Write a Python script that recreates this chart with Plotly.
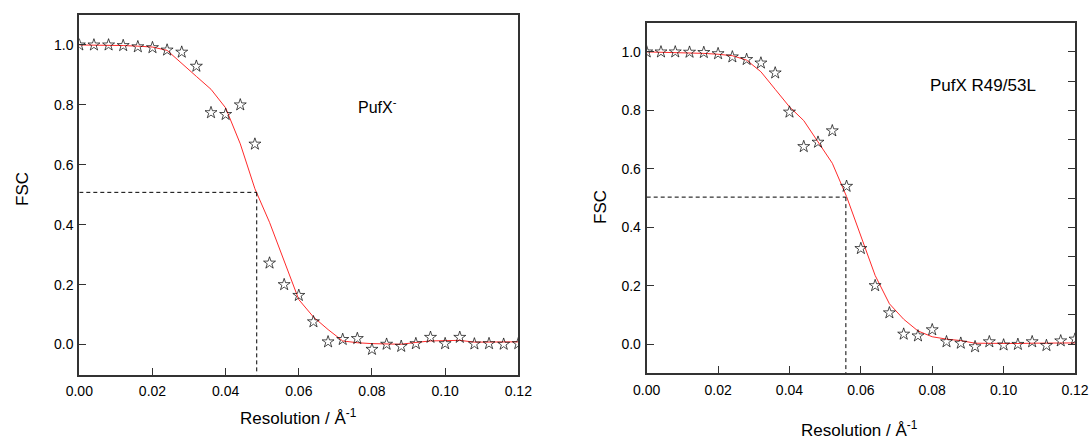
import plotly.graph_objects as go

# ---------------- data ----------------
resolution = [0.000, 0.004, 0.008, 0.012, 0.016, 0.020, 0.024, 0.028, 0.032, 0.036,
              0.040, 0.044, 0.048, 0.052, 0.056, 0.060, 0.064, 0.068, 0.072, 0.076,
              0.080, 0.084, 0.088, 0.092, 0.096, 0.100, 0.104, 0.108, 0.112, 0.116, 0.120]

pufx_minus_stars = [1.000, 1.000, 1.000, 0.998, 0.994, 0.991, 0.983, 0.976, 0.929, 0.774,
                    0.768, 0.800, 0.669, 0.272, 0.200, 0.164, 0.076, 0.009, 0.017, 0.020,
                    -0.016, 0.001, -0.006, 0.003, 0.024, 0.003, 0.024, 0.002, 0.003, 0.001, 0.003]
pufx_minus_fit = [1.000, 1.000, 0.999, 0.998, 0.996, 0.993, 0.982, 0.940, 0.895, 0.852,
                  0.790, 0.670, 0.520, 0.408, 0.280, 0.150, 0.092, 0.050, 0.012, 0.006,
                  0.003, 0.002, 0.001, 0.007, 0.012, 0.013, 0.014, 0.008, 0.008, 0.008, 0.009]

pufx_r49_stars = [1.000, 1.000, 1.000, 0.999, 0.998, 0.994, 0.983, 0.974, 0.962, 0.928,
                  0.794, 0.676, 0.691, 0.730, 0.540, 0.327, 0.200, 0.107, 0.034, 0.028,
                  0.049, 0.008, 0.003, -0.009, 0.008, -0.003, -0.001, 0.008, -0.005, 0.011, 0.017]
pufx_r49_fit = [1.000, 0.999, 0.998, 0.997, 0.995, 0.992, 0.987, 0.972, 0.932, 0.872,
                0.812, 0.765, 0.693, 0.619, 0.505, 0.370, 0.235, 0.138, 0.085, 0.045,
                0.025, 0.017, 0.012, 0.003, 0.002, 0.002, 0.002, 0.003, 0.003, 0.004, 0.004]

cutoff_left = [0.0485, 0.508]    # resolution, FSC at threshold
cutoff_right = [0.0558, 0.503]

x_ticks = [0.00, 0.02, 0.04, 0.06, 0.08, 0.10, 0.12]
x_tick_labels = ["0.00", "0.02", "0.04", "0.06", "0.08", "0.10", "0.12"]
y_ticks = [0.0, 0.2, 0.4, 0.6, 0.8, 1.0]
y_tick_labels = ["0.0", "0.2", "0.4", "0.6", "0.8", "1.0"]
right_minor_ticks = [0.0, 0.1, 0.2, 0.3, 0.4, 0.5, 0.6, 0.7, 0.8, 0.9, 1.0]

labels = ["PufX<sup>-</sup>", "PufX R49/53L"]

# ---------------- figure ----------------
W, H = 1090, 440
FONT = "Liberation Sans, Arial, sans-serif"
SPINE = "#333333"

fig = go.Figure()

def add_panel(xa, ya, stars, fit):
    fig.add_trace(go.Scatter(x=resolution, y=fit, mode="lines",
                             line=dict(color="#ff2a2a", width=1),
                             xaxis=xa, yaxis=ya, showlegend=False))
    fig.add_trace(go.Scatter(x=resolution, y=stars, mode="markers",
                             marker=dict(symbol="star-open", size=9, color="black",
                                         line=dict(width=0.7, color="black")),
                             xaxis=xa, yaxis=ya, showlegend=False))

add_panel("x", "y", pufx_minus_stars, pufx_minus_fit)
add_panel("x2", "y2", pufx_r49_stars, pufx_r49_fit)
# invisible trace for right-side ticks of right panel
fig.add_trace(go.Scatter(x=[None], y=[None], xaxis="x2", yaxis="y3", showlegend=False))

def px_x(p):
    return p / W

def px_y(p):
    return 1 - p / H

common_axis = dict(showline=True, linecolor=SPINE, linewidth=2, mirror=True,
                   ticks="inside", ticklen=7, tickwidth=1, tickcolor=SPINE,
                   showgrid=False, zeroline=False, automargin=False,
                   tickfont=dict(family=FONT, size=14, color="black"))

xr = [0, 0.12]
yr = [-0.1, 1.1]

fig.update_layout(
    width=W, height=H,
    margin=dict(l=0, r=0, t=0, b=0, autoexpand=False),
    paper_bgcolor="white", plot_bgcolor="white",
    xaxis=dict(domain=[px_x(79.3), px_x(518.3)], range=xr, anchor="y",
               tickvals=x_ticks, ticktext=x_tick_labels, ticklabelstandoff=3, **common_axis),
    yaxis=dict(domain=[px_y(374.5), px_y(15)], range=yr, anchor="x",
               tickvals=y_ticks, ticktext=y_tick_labels, ticklabelstandoff=1, **common_axis),
    xaxis2=dict(domain=[px_x(646.7), px_x(1075)], range=xr, anchor="y2",
                tickvals=x_ticks, ticktext=x_tick_labels, ticklabelstandoff=3, **common_axis),
    yaxis2=dict(domain=[px_y(373.3), px_y(22.7)], range=yr, anchor="x2",
                tickvals=y_ticks, ticktext=y_tick_labels, ticklabelstandoff=1, **common_axis),
    yaxis3=dict(domain=[px_y(373.3), px_y(22.7)], range=yr, anchor="x2", overlaying="y2",
                side="right", tickvals=right_minor_ticks, showticklabels=False,
                ticks="inside", ticklen=7, tickwidth=1, tickcolor=SPINE, automargin=False,
                showline=False, showgrid=False, zeroline=False),
)

# dashed threshold lines
for xa, ya, c in (("x", "y", cutoff_left), ("x2", "y2", cutoff_right)):
    fig.add_shape(type="line", xref=xa, yref=ya, x0=0, x1=c[0], y0=c[1], y1=c[1],
                  line=dict(color="black", width=1, dash="4px,3px"))
    fig.add_shape(type="line", xref=xa, yref=ya, x0=c[0], x1=c[0], y0=c[1], y1=-0.1,
                  line=dict(color="black", width=1, dash="4px,3px"))

# panel labels
fig.add_annotation(xref="x", yref="y", x=0.0815, y=0.795, text=labels[0], showarrow=False,
                   xanchor="center", font=dict(family=FONT, size=16, color="black"))
fig.add_annotation(xref="x2", yref="y2", x=0.0942, y=0.885, text=labels[1], showarrow=False,
                   xanchor="center", font=dict(family=FONT, size=17, color="black"))

# axis titles as annotations
title_font = dict(family=FONT, size=17, color="black")
fig.add_annotation(xref="paper", yref="paper", x=px_x(22), y=px_y(189), text="FSC",
                   xanchor="center", yanchor="middle",
                   textangle=-90, showarrow=False, font=title_font)
fig.add_annotation(xref="paper", yref="paper", x=px_x(600), y=px_y(207), text="FSC",
                   xanchor="center", yanchor="middle",
                   textangle=-90, showarrow=False, font=title_font)
fig.add_annotation(xref="paper", yref="paper", x=px_x(298), y=px_y(417),
                   text="Resolution / Å<sup>-1</sup>", showarrow=False, font=title_font,
                   xanchor="center", yanchor="middle")
fig.add_annotation(xref="paper", yref="paper", x=px_x(859), y=px_y(429),
                   text="Resolution / Å<sup>-1</sup>", showarrow=False, font=title_font,
                   xanchor="center", yanchor="middle")

fig.write_html("out.html", config={"displayModeBar": False},
               post_script="document.body.style.margin='0';document.body.style.overflow='hidden';")
